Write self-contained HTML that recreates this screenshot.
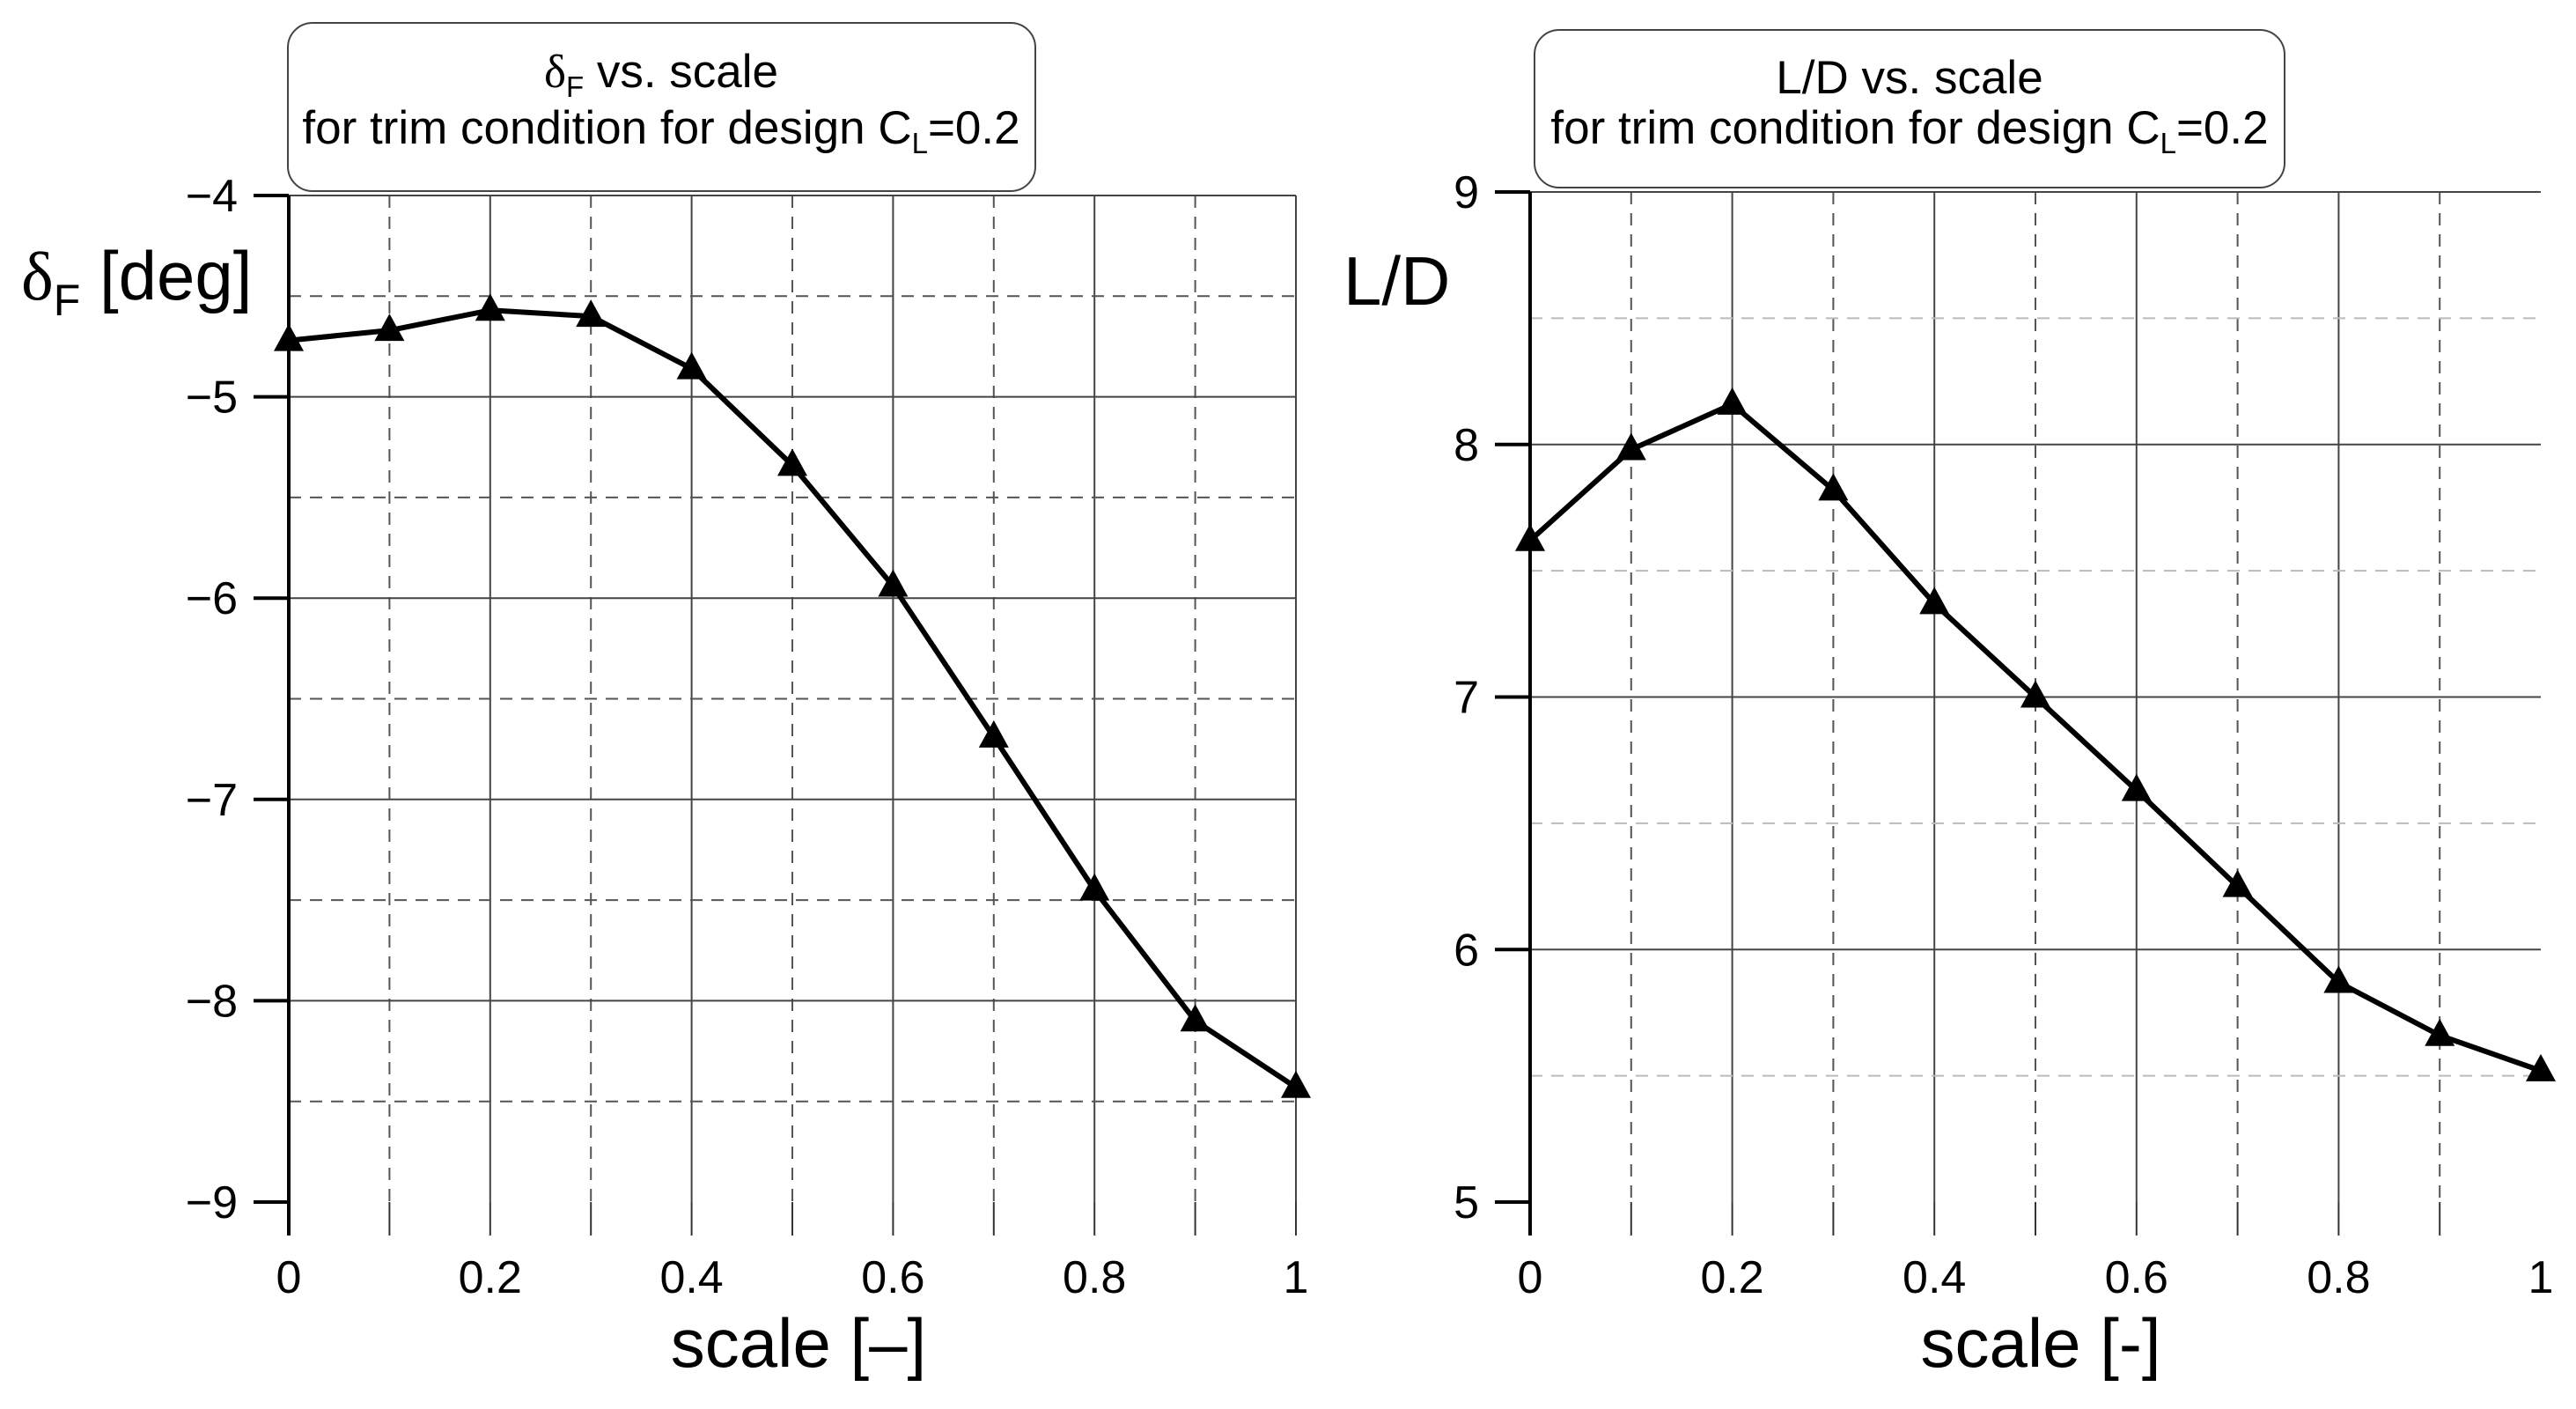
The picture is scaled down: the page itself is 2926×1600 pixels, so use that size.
<!DOCTYPE html>
<html><head><meta charset="utf-8"><style>
html,body{margin:0;padding:0;background:#fff;}
svg{display:block;font-family:"Liberation Sans",sans-serif;}
</style></head><body>
<svg id="s" width="2926" height="1600" viewBox="0 0 2926 1600" xmlns="http://www.w3.org/2000/svg">
<g id="c1"></g>
<g id="c2"></g>
<g>
<rect x="327" y="26" width="849" height="191" rx="28" fill="#fff" stroke="#444" stroke-width="2"/>
<text x="751" y="99" text-anchor="middle" font-size="53" font-family="Liberation Sans,sans-serif"><tspan font-family="Liberation Serif,serif">δ</tspan><tspan font-size="33" dy="11">F</tspan><tspan dy="-11"> vs. scale</tspan></text>
<text x="751" y="163" text-anchor="middle" font-size="53" font-family="Liberation Sans,sans-serif">for trim condition for design C<tspan font-size="33" dy="11">L</tspan><tspan dy="-11">=0.2</tspan></text>
</g>
<g>
<rect x="1743" y="34" width="852" height="179" rx="28" fill="#fff" stroke="#444" stroke-width="2"/>
<text x="2169" y="106" text-anchor="middle" font-size="53" font-family="Liberation Sans,sans-serif">L/D vs. scale</text>
<text x="2169" y="163" text-anchor="middle" font-size="53" font-family="Liberation Sans,sans-serif">for trim condition for design C<tspan font-size="33" dy="11">L</tspan><tspan dy="-11">=0.2</tspan></text>
</g>
<text x="24" y="340" font-size="78" font-family="Liberation Sans,sans-serif"><tspan font-family="Liberation Serif,serif">δ</tspan><tspan font-size="50" dy="18">F</tspan><tspan dy="-18"> [deg]</tspan></text>
<text x="1526" y="346" font-size="78" font-family="Liberation Sans,sans-serif">L/D</text>
<text x="907" y="1552" text-anchor="middle" font-size="78" font-family="Liberation Sans,sans-serif">scale [–]</text>
<text x="2318" y="1552" text-anchor="middle" font-size="78" font-family="Liberation Sans,sans-serif">scale [-]</text>
</svg>
<script>
const scaleVals = [0,0.1,0.2,0.3,0.4,0.5,0.6,0.7,0.8,0.9,1];
const deltaF = [-4.72,-4.67,-4.57,-4.60,-4.86,-5.34,-5.94,-6.69,-7.45,-8.10,-8.43];
const ldVals = [7.62,7.98,8.16,7.82,7.37,7.00,6.63,6.25,5.87,5.66,5.52];
const xTicks = [0,0.2,0.4,0.6,0.8,1];
const xTickLabels = ["0","0.2","0.4","0.6","0.8","1"];
const yTicks1 = [-4,-5,-6,-7,-8,-9];
const yTickLabels1 = ["\u22124","\u22125","\u22126","\u22127","\u22128","\u22129"];
const yTicks2 = [9,8,7,6,5];
const yTickLabels2 = ["9","8","7","6","5"];

const NS="http://www.w3.org/2000/svg";
function mk(parent,tag,attrs,txt){const e=document.createElementNS(NS,tag);for(const k in attrs)e.setAttribute(k,attrs[k]);if(txt!==undefined)e.textContent=txt;parent.appendChild(e);return e;}

function chart(g,o){
  const X=v=>o.x0+(v-0)/(1-0)*(o.x1-o.x0);
  const Y=v=>o.y0+(o.ymax-v)/(o.ymax-o.ymin)*(o.y1-o.y0);
  for(let i=1;i<=10;i++){
    const v=i/10; if(o.noRight && i===10) continue;
    const l=mk(g,'line',{x1:X(v),x2:X(v),y1:o.y0,y2:o.y1,stroke:i%2?'#555':'#444','stroke-width':2,'stroke-dasharray':i%2?'14,10':'none'});
    
    
  }
  for(let v=o.ymin+0.5;v<=o.ymax;v+=0.5){
    const isInt=Math.abs(v-Math.round(v))<1e-6;
    const l=mk(g,'line',{x1:o.x0,x2:o.x1,y1:Y(v),y2:Y(v),stroke:isInt?'#444':o.halfColor,'stroke-width':2,'stroke-dasharray':isInt?'none':'14,10'});
    
    
  }
  const ax=mk(g,'line',{x1:o.x0,x2:o.x0,y1:o.y0,y2:o.y1+38,stroke:'#000','stroke-width':4});
  
  
  o.yt.forEach((v,i)=>{
    const t=mk(g,'line',{x1:o.x0-40,x2:o.x0,y1:Y(v),y2:Y(v),stroke:'#000','stroke-width':4});
    
    
    const tx=mk(g,'text',{x:o.x0-58,y:Y(v)+18,'text-anchor':'end','font-size':52},o.ytl[i]);
    
    
  });
  for(let i=1;i<=10;i++){
    if(o.noRight && i===10) continue;
    const t=mk(g,'line',{x1:X(i/10),x2:X(i/10),y1:o.y1,y2:o.y1+38,stroke:'#333','stroke-width':2});
    
    
  }
  xTicks.forEach((v,i)=>{
    const tx=mk(g,'text',{x:X(v),y:1468,'text-anchor':'middle','font-size':52},xTickLabels[i]);
    
    
  });
  const pts=scaleVals.map((s,i)=>X(s)+','+Y(o.data[i])).join(' ');
  const pl=mk(g,'polyline',{points:pts,fill:'none',stroke:'#000','stroke-width':6,'stroke-linejoin':'round'});
  
  
  scaleVals.forEach((s,i)=>{
    const cx=X(s),cy=Y(o.data[i]);
    const m=mk(g,'polygon',{points:`${cx},${cy-19} ${cx-17},${cy+12} ${cx+17},${cy+12}`,fill:'#000'});
    
    
  });
}
const g1=document.getElementById('c1'), g2=document.getElementById('c2');
chart(g1,{x0:328,x1:1472,y0:222,y1:1365,ymin:-9,ymax:-4,yt:yTicks1,ytl:yTickLabels1,data:deltaF,halfColor:'#555'});
chart(g2,{x0:1738,x1:2886,y0:218,y1:1365,ymin:5,ymax:9,yt:yTicks2,ytl:yTickLabels2,data:ldVals,halfColor:'#bbb',noRight:true});
</script>
</body></html>
